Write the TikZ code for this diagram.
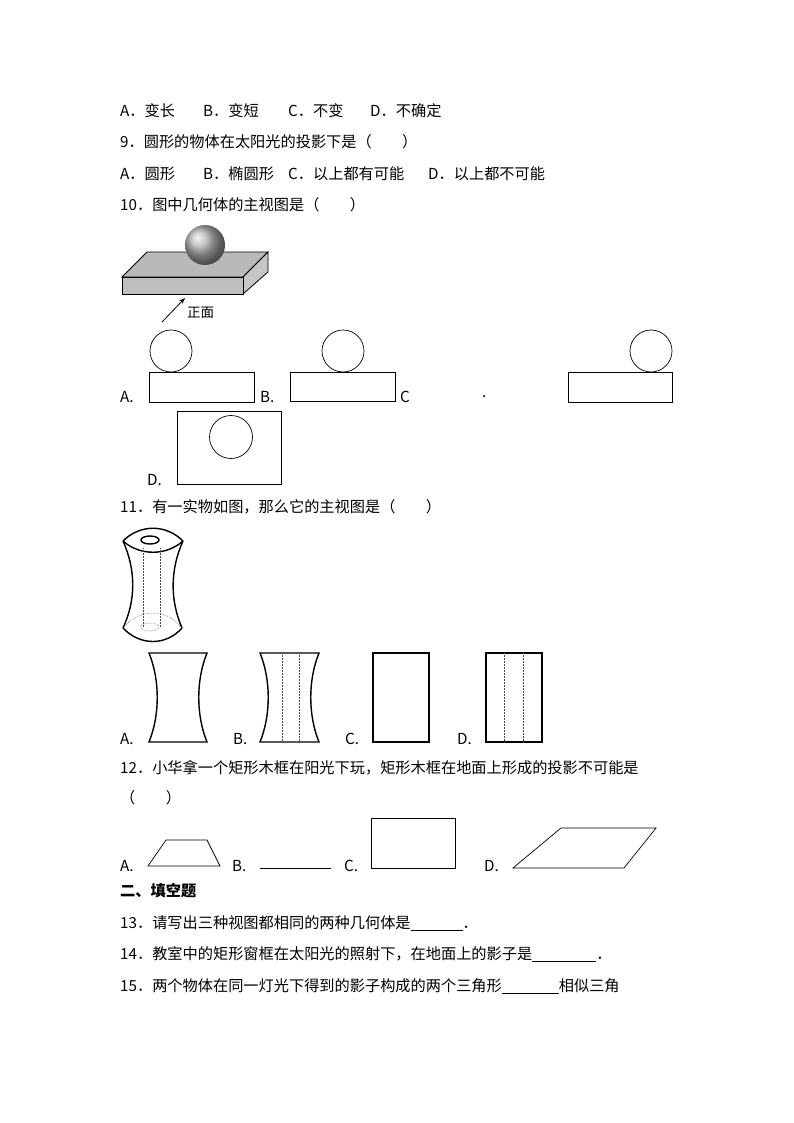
\documentclass[tikz,border=0pt]{standalone}
\usepackage{fontspec}
\setmainfont{Noto Sans CJK SC}
\usetikzlibrary{arrows.meta}
\begin{document}
\begin{tikzpicture}[x=1pt,y=-1pt,
  txt/.style={anchor=west,inner sep=0pt,font=\fontsize{15.2}{16}\selectfont},
  fig/.style={draw=black,line width=0.7pt},
  thick2/.style={draw=black,line width=1.4pt},
  dots/.style={draw=black!70,line width=0.5pt,densely dotted}]
\useasboundingbox[fill=white] (0,0) rectangle (794,1123);
% lines of text
\node[txt] (l1a) at (120,111) {A．变长};
\node[txt] (l1b) at (203,111) {B．变短};
\node[txt] (l1c) at (288,111) {C．不变};
\node[txt] (l1d) at (370,111) {D．不确定};
\node[txt] (q9) at (120,142) {9．圆形的物体在太阳光的投影下是（　　）};
\node[txt] (o9a) at (120,174) {A．圆形};
\node[txt] (o9b) at (203,174) {B．椭圆形};
\node[txt] (o9c) at (288,174) {C．以上都有可能};
\node[txt] (o9d) at (428,174) {D．以上都不可能};
\node[txt] (q10) at (120,205) {10．图中几何体的主视图是（　　）};
% Q10 figure
\fill[gray!55,draw=black,line width=0.8pt] (122,277) -- (147,252) -- (268,252) -- (243,277) -- cycle;
\fill[gray!45,draw=black,line width=0.8pt] (243,277) -- (268,252) -- (268,272) -- (243,294) -- cycle;
\fill[gray!50,draw=black,line width=0.8pt] (122,277) rectangle (243,294);
\shade[ball color=gray!60] (205,245) circle (20);
\coordinate (ar1) at (162,322); \coordinate (ar2) at (185,298);
\draw[-{Stealth[length=6pt]},line width=0.8pt] (ar1) -- (ar2);
\node[txt,font=\fontsize{13.5}{14}\selectfont] (zm) at (187,313) {正面};
% options
\node[txt] (a10) at (120,397) {A.};
\draw[fig] (171,351) circle (21); \draw[fig] (149,372) rectangle (254,402);
\node[txt] (b10) at (260,397) {B.};
\draw[fig] (343,351) circle (21); \draw[fig] (290,372) rectangle (395,401);
\node[txt] (c10) at (400,397) {C};
\node[txt] (dot10) at (482,397) {.};
\draw[fig] (651,351) circle (21); \draw[fig] (568,372) rectangle (672,402);
\node[txt] (d10) at (147,480) {D.};
\draw[fig] (177,411) rectangle (281,484); \draw[fig] (231,437) circle (21.5);
\node[txt] (q11) at (120,507) {11．有一实物如图，那么它的主视图是（　　）};
% vase
\draw[thick2] (123,541) .. controls (140,524) and (166,524) .. (183,541);
\draw[thick2] (123,541) .. controls (140,556) and (166,556) .. (183,541);
\draw[thick2] (150,540) ellipse (9 and 4);
\draw[thick2] (123,541) .. controls (136,570) and (136,600) .. (123,628);
\draw[thick2] (183,541) .. controls (170,570) and (170,600) .. (182,628);
\draw[thick2] (123,628) .. controls (140,646) and (166,646) .. (182,628);
\draw[dots] (123,628) .. controls (140,608) and (166,608) .. (182,628);
\draw[dots] (150,627) ellipse (9 and 4);
\draw[dots] (143,548) -- (143,627); \draw[dots] (160,548) -- (160,627);
% Q11 options
\node[txt] (a11) at (120,739) {A.};
\draw[thick2] (149,653) -- (207,653) .. controls (196,680) and (196,715) .. (207,742) -- (149,742) .. controls (160,715) and (160,680) .. (149,653) -- cycle;
\node[txt] (b11) at (233,739) {B.};
\draw[thick2] (260,653) -- (319,653) .. controls (308,680) and (308,715) .. (319,742) -- (260,742) .. controls (271,715) and (271,680) .. (260,653) -- cycle;
\draw[dots] (282,653) -- (282,742); \draw[dots] (299,653) -- (299,742);
\node[txt] (c11) at (345,739) {C.};
\draw[thick2] (373,653) rectangle (429,742);
\node[txt] (d11) at (457,739) {D.};
\draw[thick2] (486,653) rectangle (542,742);
\draw[dots] (504,653) -- (504,742); \draw[dots] (523,653) -- (523,742);
\node[txt] (q12) at (120,768) {12．小华拿一个矩形木框在阳光下玩，矩形木框在地面上形成的投影不可能是};
\node[txt] (q12b) at (120,798) {（　　）};
% Q12 options
\node[txt] (a12) at (120,866) {A.};
\draw[fig] (148,866) -- (166,840) -- (207,840) -- (220,866) -- cycle;
\node[txt] (b12) at (232,866) {B.};
\draw[fig] (260,868) -- (331,868);
\node[txt] (c12) at (344,866) {C.};
\draw[fig] (371,818) rectangle (455,868);
\node[txt] (d12) at (484,866) {D.};
\draw[fig] (513,868) -- (561,828) -- (656,828) -- (624,868) -- cycle;
\node[txt,font=\fontsize{15.2}{16}\selectfont\bfseries] (sec2) at (120,891) {二、填空题};
\node[txt] (q13) at (120,923) {13．请写出三种视图都相同的两种几何体是\underline{\hspace{52pt}}．};
\node[txt] (q14) at (120,954) {14．教室中的矩形窗框在太阳光的照射下，在地面上的影子是\underline{\hspace{64pt}}．};
\node[txt] (q15) at (120,986) {15．两个物体在同一灯光下得到的影子构成的两个三角形\underline{\hspace{57pt}}相似三角};
\end{tikzpicture}
\end{document}
